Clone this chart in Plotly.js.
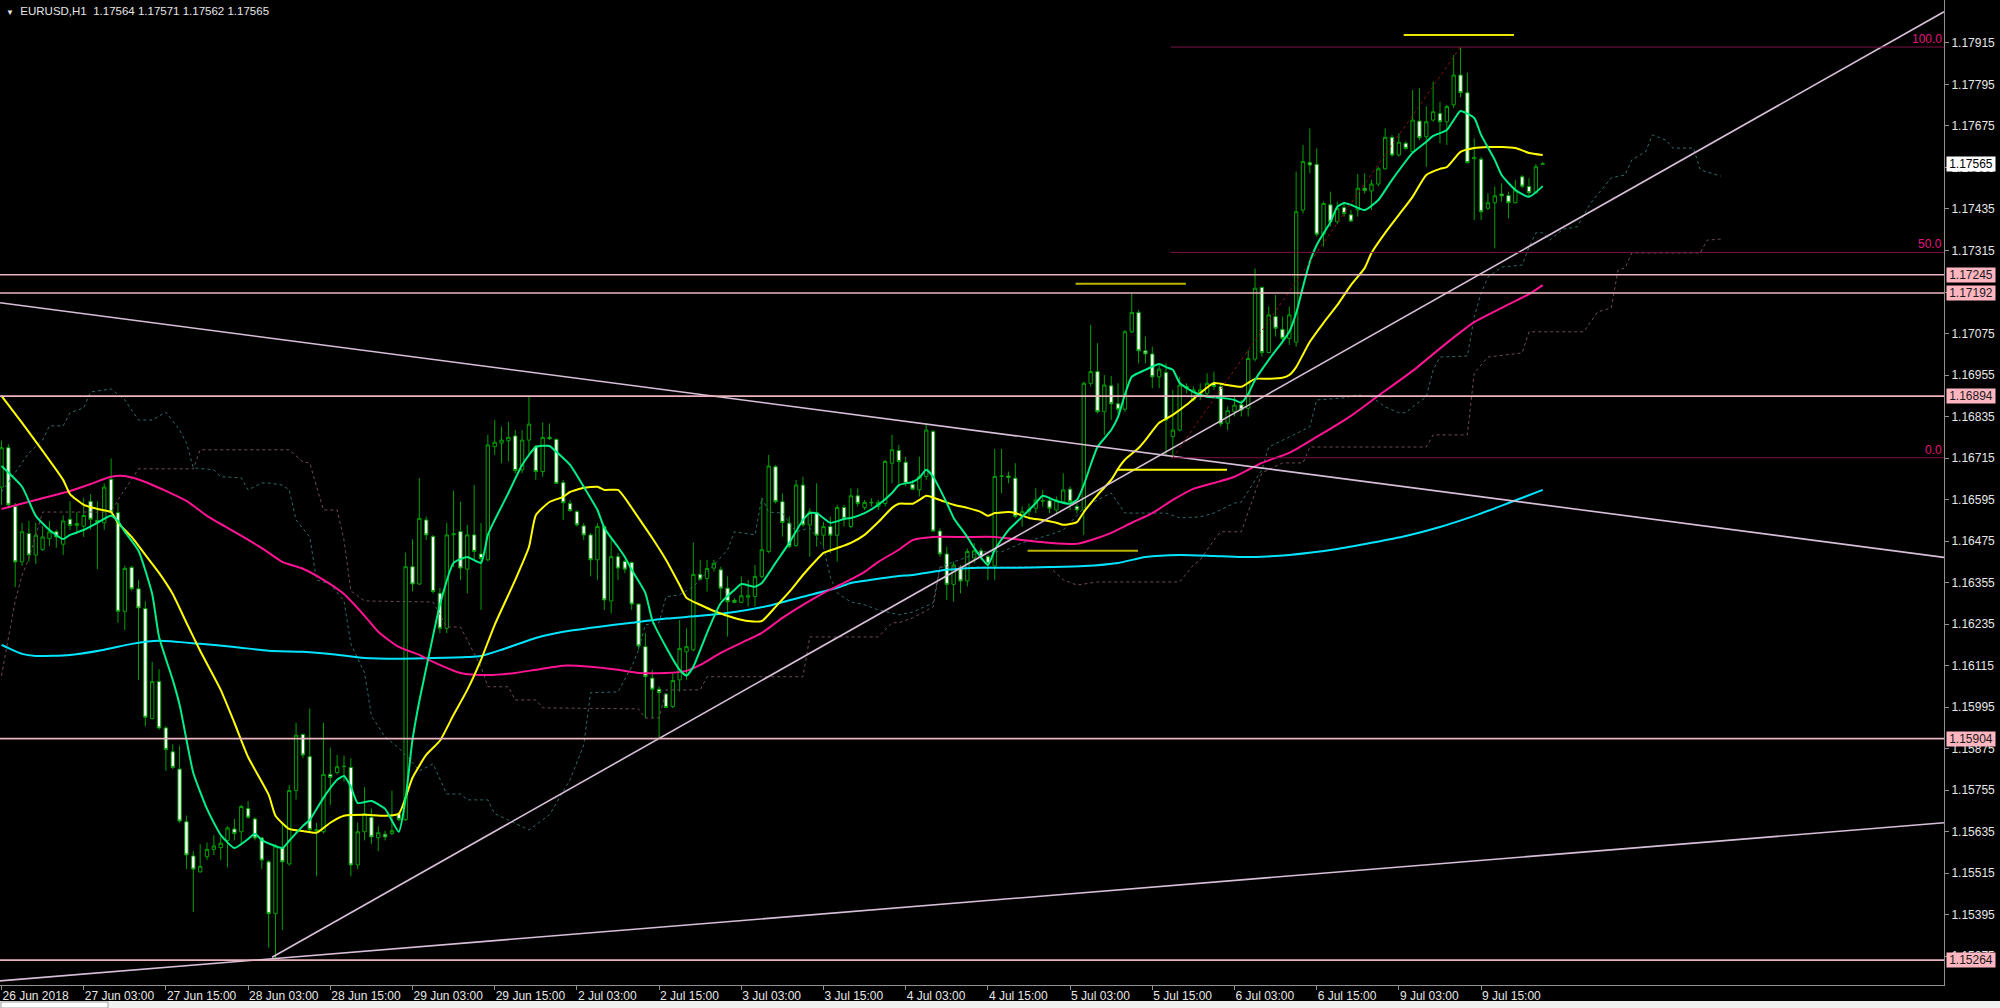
<!DOCTYPE html>
<html><head><meta charset="utf-8">
<script src="https://cdn.plot.ly/plotly-3.0.1.min.js"></script>
<style>html,body{margin:0;padding:0;background:#000;overflow:hidden}#chart{width:2000px;height:1008px}</style>
</head><body><div id="chart"></div>
<script>
// ---------------- DATA ----------------
const symbolName = 'EURUSD,H1';
const lastQuote = ['1.17564', '1.17571', '1.17562', '1.17565'];

const timeTickBars = [0,12,24,36,48,60,72,84,96,108,120,132,144,156,168,180,192,204,216];
const timeTickLabels = ['26 Jun 2018','27 Jun 03:00','27 Jun 15:00','28 Jun 03:00','28 Jun 15:00','29 Jun 03:00','29 Jun 15:00','2 Jul 03:00','2 Jul 15:00','3 Jul 03:00','3 Jul 15:00','4 Jul 03:00','4 Jul 15:00','5 Jul 03:00','5 Jul 15:00','6 Jul 03:00','6 Jul 15:00','9 Jul 03:00','9 Jul 15:00'];

const priceTicks = [1.15275,1.15395,1.15515,1.15635,1.15755,1.15875,1.15995,1.16115,1.16235,1.16355,1.16475,1.16595,1.16715,1.16835,1.16955,1.17075,1.17195,1.17315,1.17435,1.17555,1.17675,1.17795,1.17915];

const open = [1.16631,1.16745,1.16575,1.16415,1.16497,1.16435,1.16451,1.16482,1.16502,1.16466,
1.16538,1.16520,1.16518,1.16590,1.16535,1.16528,1.16654,1.16557,1.16272,1.16399,
1.16337,1.16280,1.15962,1.16069,1.15935,1.15866,1.15816,1.15664,1.15565,1.15519,
1.15563,1.15584,1.15589,1.15610,1.15643,1.15635,1.15702,1.15672,1.15617,1.15548,
1.15398,1.15589,1.15542,1.15754,1.15916,1.15852,1.15641,1.15635,1.15801,1.15806,
1.15823,1.15821,1.15539,1.15635,1.15677,1.15618,1.15628,1.15630,1.15687,1.15670,
1.16401,1.16351,1.16536,1.16488,1.16324,1.16223,1.16493,1.16503,1.16394,1.16493,
1.16438,1.16421,1.16748,1.16758,1.16765,1.16779,1.16681,1.16767,1.16748,1.16676,
1.16775,1.16769,1.16644,1.16584,1.16560,1.16519,1.16493,1.16421,1.16517,1.16302,
1.16430,1.16416,1.16413,1.16293,1.16170,1.16079,1.16047,1.16033,1.15997,1.16074,
1.16155,1.16161,1.16379,1.16367,1.16397,1.16392,1.16339,1.16304,1.16298,1.16313,
1.16315,1.16373,1.16445,1.16690,1.16589,1.16527,1.16462,1.16637,1.16522,1.16557,
1.16492,1.16517,1.16492,1.16572,1.16517,1.16606,1.16572,1.16587,1.16575,1.16584,
1.16700,1.16737,1.16703,1.16639,1.16623,1.16662,1.16792,1.16504,1.16438,1.16350,
1.16397,1.16360,1.16426,1.16447,1.16430,1.16403,1.16662,1.16663,1.16657,1.16546,
1.16560,1.16570,1.16592,1.16592,1.16565,1.16589,1.16625,1.16575,1.16565,1.16931,
1.16965,1.16849,1.16924,1.16872,1.16856,1.17080,1.17136,1.17025,1.17016,1.16950,
1.16962,1.16777,1.16796,1.16922,1.16883,1.16897,1.16902,1.16931,1.16922,1.16816,
1.16849,1.16869,1.16859,1.17001,1.17208,1.17020,1.17124,1.17087,1.17061,1.17050,
1.17432,1.17569,1.17564,1.17362,1.17447,1.17398,1.17439,1.17418,1.17432,1.17495,
1.17487,1.17507,1.17551,1.17642,1.17591,1.17625,1.17601,1.17689,1.17644,1.17692,
1.17711,1.17687,1.17736,1.17822,1.17771,1.17580,1.17579,1.17437,1.17453,1.17478,
1.17474,1.17453,1.17528,1.17500,1.17482,1.17564];

const high = [1.16766,1.16755,1.16585,1.16528,1.16533,1.16528,1.16518,1.16533,1.16508,1.16549,
1.16590,1.16559,1.16600,1.16611,1.16590,1.16642,1.16714,1.16585,1.16404,1.16404,
1.16363,1.16301,1.16126,1.16105,1.15940,1.15888,1.15883,1.15682,1.15579,1.15599,
1.15604,1.15625,1.15620,1.15651,1.15672,1.15713,1.15723,1.15677,1.15620,1.15553,
1.15599,1.15661,1.15770,1.15950,1.15919,1.15991,1.15661,1.15950,1.15878,1.15857,
1.15855,1.15847,1.15661,1.15764,1.15702,1.15651,1.15638,1.15754,1.15692,1.16442,
1.16480,1.16657,1.16546,1.16493,1.16340,1.16528,1.16621,1.16589,1.16522,1.16637,
1.16527,1.16782,1.16825,1.16806,1.16820,1.16796,1.16796,1.16893,1.16753,1.16818,
1.16815,1.16772,1.16652,1.16594,1.16565,1.16527,1.16498,1.16527,1.16522,1.16488,
1.16440,1.16421,1.16416,1.16295,1.16209,1.16103,1.16055,1.16035,1.16093,1.16247,
1.16223,1.16471,1.16421,1.16421,1.16421,1.16401,1.16373,1.16310,1.16373,1.16363,
1.16406,1.16599,1.16724,1.16695,1.16613,1.16546,1.16652,1.16661,1.16570,1.16642,
1.16531,1.16546,1.16580,1.16580,1.16628,1.16628,1.16594,1.16599,1.16594,1.16710,
1.16782,1.16753,1.16719,1.16652,1.16719,1.16816,1.16796,1.16512,1.16459,1.16416,
1.16406,1.16454,1.16469,1.16454,1.16435,1.16741,1.16741,1.16676,1.16700,1.16575,
1.16584,1.16628,1.16623,1.16604,1.16604,1.16671,1.16633,1.16584,1.16936,1.17100,
1.17047,1.16955,1.16952,1.16931,1.17085,1.17191,1.17143,1.17066,1.17037,1.16989,
1.16989,1.16912,1.16950,1.16931,1.16922,1.16931,1.16960,1.16965,1.16931,1.16864,
1.16893,1.16883,1.17027,1.17263,1.17211,1.17153,1.17186,1.17124,1.17153,1.17543,
1.17620,1.17668,1.17610,1.17456,1.17485,1.17456,1.17456,1.17432,1.17536,1.17538,
1.17519,1.17557,1.17668,1.17649,1.17654,1.17630,1.17779,1.17784,1.17731,1.17803,
1.17745,1.17736,1.17880,1.17903,1.17829,1.17639,1.17586,1.17480,1.17500,1.17509,
1.17485,1.17519,1.17533,1.17524,1.17565,1.17571];

const low = [1.16580,1.16569,1.16342,1.16404,1.16415,1.16409,1.16446,1.16461,1.16456,1.16435,
1.16508,1.16497,1.16487,1.16508,1.16394,1.16508,1.16549,1.16239,1.16218,1.16332,
1.16074,1.15940,1.15960,1.15930,1.15811,1.15816,1.15661,1.15527,1.15403,1.15517,
1.15553,1.15568,1.15553,1.15532,1.15610,1.15599,1.15672,1.15610,1.15527,1.15300,
1.15266,1.15351,1.15537,1.15728,1.15847,1.15635,1.15506,1.15630,1.15713,1.15801,
1.15780,1.15506,1.15527,1.15610,1.15599,1.15579,1.15610,1.15625,1.15666,1.15666,
1.16330,1.16348,1.16478,1.16324,1.16209,1.16209,1.16400,1.16363,1.16324,1.16421,
1.16276,1.16416,1.16724,1.16700,1.16705,1.16671,1.16671,1.16719,1.16652,1.16661,
1.16767,1.16640,1.16536,1.16560,1.16517,1.16478,1.16373,1.16363,1.16276,1.16266,
1.16363,1.16382,1.16276,1.16161,1.15963,1.15963,1.15905,1.15992,1.15992,1.16040,
1.16074,1.16156,1.16363,1.16329,1.16387,1.16305,1.16199,1.16295,1.16295,1.16286,
1.16286,1.16368,1.16440,1.16584,1.16488,1.16454,1.16459,1.16517,1.16430,1.16459,
1.16459,1.16440,1.16416,1.16517,1.16512,1.16575,1.16565,1.16575,1.16565,1.16575,
1.16642,1.16633,1.16633,1.16623,1.16604,1.16652,1.16503,1.16430,1.16305,1.16300,
1.16324,1.16344,1.16411,1.16421,1.16363,1.16363,1.16613,1.16642,1.16541,1.16517,
1.16546,1.16555,1.16575,1.16555,1.16555,1.16584,1.16565,1.16555,1.16493,1.16922,
1.16844,1.16782,1.16825,1.16844,1.16849,1.17076,1.16989,1.16989,1.16917,1.16917,
1.16719,1.16716,1.16792,1.16902,1.16878,1.16883,1.16893,1.16912,1.16806,1.16796,
1.16835,1.16835,1.16835,1.16994,1.17008,1.17018,1.17066,1.17052,1.17042,1.17037,
1.17422,1.17538,1.17355,1.17326,1.17384,1.17392,1.17413,1.17398,1.17413,1.17480,
1.17432,1.17500,1.17548,1.17586,1.17586,1.17606,1.17596,1.17634,1.17557,1.17687,
1.17625,1.17620,1.17726,1.17758,1.17567,1.17403,1.17403,1.17432,1.17321,1.17456,
1.17408,1.17451,1.17495,1.17471,1.17478,1.17562];

const close = [1.16745,1.16580,1.16415,1.16502,1.16435,1.16492,1.16487,1.16502,1.16487,1.16533,
1.16520,1.16526,1.16549,1.16538,1.16528,1.16631,1.16559,1.16272,1.16396,1.16337,
1.16282,1.15966,1.16069,1.15935,1.15873,1.15821,1.15666,1.15568,1.15527,1.15535,
1.15584,1.15594,1.15602,1.15646,1.15630,1.15708,1.15677,1.15617,1.15553,1.15398,
1.15594,1.15548,1.15754,1.15914,1.15857,1.15641,1.15638,1.15801,1.15792,1.15823,
1.15824,1.15539,1.15635,1.15687,1.15620,1.15632,1.15620,1.15638,1.15670,1.16401,
1.16351,1.16541,1.16493,1.16329,1.16223,1.16493,1.16496,1.16397,1.16493,1.16445,
1.16425,1.16753,1.16761,1.16767,1.16775,1.16679,1.16767,1.16813,1.16676,1.16775,
1.16771,1.16642,1.16586,1.16563,1.16522,1.16493,1.16421,1.16517,1.16305,1.16430,
1.16397,1.16394,1.16293,1.16172,1.16083,1.16047,1.16037,1.15994,1.16072,1.16165,
1.16170,1.16379,1.16365,1.16396,1.16411,1.16339,1.16300,1.16298,1.16317,1.16317,
1.16373,1.16450,1.16692,1.16589,1.16529,1.16459,1.16637,1.16522,1.16560,1.16492,
1.16517,1.16492,1.16572,1.16541,1.16606,1.16584,1.16587,1.16586,1.16587,1.16705,
1.16739,1.16705,1.16642,1.16625,1.16662,1.16796,1.16504,1.16438,1.16350,1.16406,
1.16360,1.16445,1.16447,1.16430,1.16411,1.16662,1.16663,1.16659,1.16546,1.16560,
1.16567,1.16594,1.16591,1.16570,1.16594,1.16623,1.16589,1.16565,1.16931,1.16965,
1.16849,1.16926,1.16872,1.16856,1.17080,1.17136,1.17025,1.17016,1.16950,1.16972,
1.16825,1.16796,1.16926,1.16917,1.16912,1.16912,1.16931,1.16922,1.16814,1.16852,
1.16868,1.16854,1.17003,1.17206,1.17020,1.17129,1.17090,1.17061,1.17129,1.17427,
1.17572,1.17562,1.17362,1.17451,1.17398,1.17437,1.17422,1.17400,1.17495,1.17488,
1.17507,1.17551,1.17642,1.17591,1.17628,1.17610,1.17692,1.17641,1.17687,1.17716,
1.17687,1.17731,1.17822,1.17771,1.17569,1.17584,1.17427,1.17453,1.17473,1.17473,
1.17453,1.17490,1.17501,1.17482,1.17557,1.17565];

// Moving averages (bar index, price)
const maGreenBars = [0,3,5,7,9,10,12,14,16,17,18,20,22,23,25,26,27,28,30,32,34,36,37,38,41,42,44,45,47,49,50,51,52,54,56,58,59,60,61,63,64,66,68,70,71,72,74,76,78,80,81,83,85,87,88,90,91,92,94,95,97,99,100,101,103,105,107,108,110,111,113,115,117,118,119,121,123,124,126,128,130,131,133,134,135,136,138,139,141,142,144,145,147,149,151,152,154,156,157,158,159,160,162,163,164,165,167,169,170,171,172,174,176,178,180,181,182,183,185,187,188,189,190,191,192,194,195,196,197,199,201,203,206,208,209,211,212,213,215,216,218,219,221,223,225];
const maGreenVals = [1.16692,1.16632,1.16548,1.16507,1.16481,1.16493,1.16507,1.16528,1.16548,1.16533,1.16502,1.16447,1.16322,1.16198,1.16074,1.16002,1.15901,1.15805,1.15701,1.15626,1.15588,1.15614,1.15629,1.15611,1.15588,1.15609,1.15652,1.15669,1.15733,1.15785,1.15796,1.15765,1.15718,1.15724,1.15701,1.15635,1.15733,1.15901,1.16013,1.16201,1.16291,1.16412,1.16429,1.16412,1.16493,1.16536,1.16614,1.16695,1.16747,1.16750,1.16733,1.16695,1.16632,1.16565,1.16513,1.16458,1.16429,1.16392,1.16325,1.16247,1.16169,1.16103,1.16086,1.16112,1.16210,1.16296,1.16334,1.16351,1.16343,1.16354,1.16412,1.16470,1.16536,1.16556,1.16556,1.16528,1.16539,1.16542,1.16556,1.16580,1.16614,1.16637,1.16646,1.16658,1.16681,1.16661,1.16585,1.16542,1.16487,1.16455,1.16406,1.16450,1.16507,1.16545,1.16585,1.16606,1.16591,1.16583,1.16594,1.16637,1.16695,1.16747,1.16796,1.16834,1.16898,1.16950,1.16970,1.16987,1.16978,1.16970,1.16932,1.16906,1.16892,1.16889,1.16883,1.16875,1.16900,1.16941,1.16999,1.17051,1.17080,1.17134,1.17210,1.17282,1.17331,1.17397,1.17441,1.17452,1.17447,1.17432,1.17461,1.17519,1.17597,1.17629,1.17646,1.17663,1.17692,1.17718,1.17698,1.17649,1.17577,1.17533,1.17490,1.17470,1.17501];

const maYellowBars = [0,3,6,9,10,12,14,16,17,19,21,23,25,27,29,32,34,36,39,40,42,44,46,48,50,53,56,58,60,62,64,66,68,70,72,75,77,78,80,82,83,85,87,88,90,91,93,95,97,99,100,102,104,107,109,111,113,115,117,119,120,122,124,126,128,130,131,133,134,135,137,139,141,143,144,145,147,148,150,152,154,155,157,158,160,162,163,164,166,167,169,171,173,175,177,179,181,183,185,187,188,189,191,193,195,197,199,200,202,204,206,208,210,211,213,215,217,219,221,223,225];
const maYellowVals = [1.16895,1.16817,1.16736,1.16652,1.16611,1.16580,1.16568,1.16559,1.16528,1.16487,1.16435,1.16383,1.16322,1.16239,1.16158,1.16045,1.15950,1.15851,1.15742,1.15681,1.15643,1.15637,1.15632,1.15661,1.15681,1.15684,1.15681,1.15687,1.15791,1.15857,1.15898,1.15973,1.16045,1.16132,1.16233,1.16363,1.16458,1.16550,1.16588,1.16603,1.16617,1.16629,1.16632,1.16623,1.16623,1.16600,1.16542,1.16484,1.16421,1.16348,1.16311,1.16291,1.16273,1.16253,1.16244,1.16244,1.16285,1.16328,1.16377,1.16421,1.16441,1.16455,1.16470,1.16493,1.16530,1.16571,1.16583,1.16583,1.16594,1.16606,1.16594,1.16580,1.16571,1.16559,1.16548,1.16556,1.16559,1.16556,1.16542,1.16536,1.16528,1.16522,1.16530,1.16559,1.16608,1.16652,1.16684,1.16710,1.16744,1.16767,1.16817,1.16840,1.16869,1.16903,1.16932,1.16926,1.16921,1.16944,1.16944,1.16947,1.16955,1.16978,1.17051,1.17106,1.17157,1.17215,1.17264,1.17308,1.17366,1.17418,1.17470,1.17533,1.17551,1.17556,1.17600,1.17611,1.17614,1.17614,1.17611,1.17597,1.17591];

const maPinkBars = [0,5,10,13,16,18,21,24,27,30,34,38,41,44,47,50,53,55,58,61,63,67,71,75,78,82,86,90,93,97,100,102,105,108,111,114,117,120,123,126,128,131,133,136,141,145,149,153,157,160,162,165,168,171,174,177,180,184,188,192,197,201,206,211,215,219,223,225];
const maPinkVals = [1.16568,1.16594,1.16620,1.16640,1.16661,1.16663,1.16646,1.16620,1.16591,1.16548,1.16502,1.16455,1.16415,1.16395,1.16363,1.16322,1.16259,1.16213,1.16169,1.16146,1.16126,1.16094,1.16088,1.16094,1.16103,1.16115,1.16112,1.16103,1.16094,1.16094,1.16100,1.16117,1.16152,1.16181,1.16210,1.16253,1.16291,1.16325,1.16354,1.16386,1.16415,1.16450,1.16478,1.16487,1.16487,1.16487,1.16478,1.16470,1.16467,1.16484,1.16499,1.16528,1.16556,1.16594,1.16626,1.16643,1.16661,1.16701,1.16730,1.16776,1.16837,1.16895,1.16967,1.17048,1.17108,1.17149,1.17189,1.17215];

const maCyanBars = [0,3,5,10,15,19,23,29,34,39,44,48,53,58,63,68,70,73,78,82,87,92,97,102,107,112,117,122,124,127,131,133,138,143,148,153,158,163,167,172,177,181,188,195,200,205,210,215,220,225];
const maCyanVals = [1.16175,1.16149,1.16143,1.16146,1.16161,1.16178,1.16187,1.16178,1.16169,1.16158,1.16155,1.16149,1.16137,1.16135,1.16137,1.16140,1.16143,1.16161,1.16195,1.16213,1.16227,1.16239,1.16251,1.16259,1.16270,1.16288,1.16314,1.16340,1.16354,1.16363,1.16374,1.16377,1.16392,1.16398,1.16398,1.16400,1.16403,1.16412,1.16429,1.16435,1.16432,1.16429,1.16435,1.16452,1.16470,1.16490,1.16516,1.16548,1.16585,1.16623];

// Ichimoku spans (dotted)
const spanABars = [0,2,4,6,7,9,10,12,13,16,18,20,22,24,26,27,28,31,32,35,36,38,39,41,42,43,45,46,48,50,51,53,54,56,58,59,61,63,65,67,68,71,72,74,77,80,83,85,86,90,92,93,94,96,97,99,101,104,106,107,110,111,112,114,116,118,120,121,122,124,126,128,131,133,136,137,143,146,149,153,155,158,160,162,163,164,170,172,175,177,180,181,184,185,191,192,196,198,200,202,204,205,206,208,209,210,214,215,216,217,219,222,223,224,225,226,228,230,232,235,237,238,240,241,243,244,247,248,251];
const spanAVals = [1.16617,1.16672,1.16730,1.16767,1.16808,1.16808,1.16846,1.16860,1.16906,1.16915,1.16883,1.16825,1.16825,1.16848,1.16796,1.16759,1.16687,1.16681,1.16661,1.16658,1.16623,1.16643,1.16643,1.16637,1.16623,1.16536,1.16487,1.16363,1.16351,1.16302,1.16178,1.16094,1.15970,1.15909,1.15877,1.15857,1.15811,1.15831,1.15744,1.15744,1.15727,1.15727,1.15687,1.15669,1.15640,1.15684,1.15785,1.15886,1.16037,1.16039,1.16112,1.16161,1.16233,1.16239,1.16314,1.16320,1.16343,1.16406,1.16450,1.16502,1.16493,1.16600,1.16559,1.16556,1.16502,1.16513,1.16458,1.16371,1.16325,1.16299,1.16291,1.16276,1.16262,1.16270,1.16296,1.16400,1.16444,1.16444,1.16470,1.16493,1.16507,1.16571,1.16594,1.16614,1.16585,1.16556,1.16556,1.16542,1.16545,1.16556,1.16585,1.16588,1.16681,1.16747,1.16805,1.16883,1.16889,1.16898,1.16892,1.16863,1.16846,1.16846,1.16863,1.16892,1.16970,1.17007,1.17010,1.17123,1.17192,1.17238,1.17267,1.17273,1.17325,1.17366,1.17366,1.17345,1.17377,1.17383,1.17452,1.17525,1.17533,1.17577,1.17600,1.17649,1.17634,1.17611,1.17611,1.17548,1.17530];

const spanBBars = [0,2,3,4,6,16,17,20,28,29,42,44,45,47,49,50,51,53,63,65,67,70,71,74,75,78,79,93,94,96,97,102,103,117,118,128,130,131,133,136,137,153,155,157,160,172,174,175,177,178,181,184,187,190,191,208,209,214,215,217,222,223,231,233,235,236,237,238,248,249,251];
const spanBVals = [1.16086,1.16302,1.16377,1.16424,1.16559,1.16559,1.16594,1.16684,1.16684,1.16739,1.16739,1.16704,1.16701,1.16565,1.16565,1.16478,1.16331,1.16302,1.16299,1.16227,1.16227,1.16112,1.16054,1.16054,1.16016,1.16016,1.15993,1.15990,1.15964,1.15964,1.16045,1.16045,1.16083,1.16083,1.16198,1.16198,1.16239,1.16239,1.16253,1.16285,1.16400,1.16400,1.16363,1.16348,1.16357,1.16357,1.16406,1.16421,1.16478,1.16502,1.16502,1.16672,1.16701,1.16701,1.16747,1.16747,1.16782,1.16782,1.16961,1.17007,1.17019,1.17080,1.17080,1.17137,1.17149,1.17259,1.17264,1.17308,1.17308,1.17345,1.17348];

// Horizontal price levels (pink) and their labels
const levelPrices = [1.17245, 1.17192, 1.16894, 1.15904, 1.15264];
const levelLabels = ['1.17245', '1.17192', '1.16894', '1.15904', '1.15264'];
const bidPrice = 1.17565;
const bidLabel = '1.17565';

// Trend lines: [bar, price] anchors
const trendDownBars = [-0.22, 283.58];
const trendDownPrices = [1.17164, 1.16428];
const trendUpBars = [39.5, 283.58];
const trendUpPrices = [1.15272, 1.18005];
const trendLowBars = [-0.22, 283.58];
const trendLowPrices = [1.15204, 1.15661];

// Fibonacci retracement
const fibStartBar = 171, fibEndBar = 213;
const fibLowPrice = 1.16716, fibHighPrice = 1.17903;
const fibLevels = [0, 50, 100];
const fibLabels = ['0.0', '50.0', '100.0'];

// Short yellow level segments: [startBar, endBar], price
const segStartBars = [204.7, 156.8, 162.8, 149.8];
const segEndBars = [220.8, 172.9, 178.9, 165.9];
const segPrices = [1.17938, 1.17219, 1.16681, 1.16447];
const segColors = ['#E6E600', '#BDB500', '#FFFF00', '#BDB500'];

// ---------------- CHART ----------------
const X_MIN = -0.22, X_MAX = 283.58;
const Y_MIN = 1.15192, Y_MAX = 1.18039;
const FONT = 'Liberation Sans, Arial, sans-serif';
const barIndex = open.map((_, i) => i);

const traces = [];
traces.push({
  type: 'candlestick', x: barIndex, open: open, high: high, low: low, close: close,
  increasing: {line: {color: '#00A000', width: 1}, fillcolor: '#000000'},
  decreasing: {line: {color: '#00A000', width: 1}, fillcolor: '#FFFFFF'},
  whiskerwidth: 0, hoverinfo: 'skip', showlegend: false
});
traces.push({type: 'scatter', mode: 'lines', x: spanABars, y: spanAVals, line: {color: '#2E6A6A', width: 1, dash: 'dot'}, hoverinfo: 'skip'});
traces.push({type: 'scatter', mode: 'lines', x: spanBBars, y: spanBVals, line: {color: '#6E4C55', width: 1, dash: 'dot'}, hoverinfo: 'skip'});
traces.push({type: 'scatter', mode: 'lines', x: maCyanBars, y: maCyanVals, line: {color: '#00E5FF', width: 2, shape: 'spline', smoothing: 0.6}, hoverinfo: 'skip'});
traces.push({type: 'scatter', mode: 'lines', x: maPinkBars, y: maPinkVals, line: {color: '#FF1493', width: 2, shape: 'spline', smoothing: 0.6}, hoverinfo: 'skip'});
traces.push({type: 'scatter', mode: 'lines', x: maYellowBars, y: maYellowVals, line: {color: '#FFFF00', width: 2, shape: 'spline', smoothing: 0.5}, hoverinfo: 'skip'});
traces.push({type: 'scatter', mode: 'lines', x: maGreenBars, y: maGreenVals, line: {color: '#00EE88', width: 2, shape: 'spline', smoothing: 0.5}, hoverinfo: 'skip'});

// trend lines
[[trendDownBars, trendDownPrices], [trendUpBars, trendUpPrices], [trendLowBars, trendLowPrices]].forEach(([xs, ys]) => {
  traces.push({type: 'scatter', mode: 'lines', x: xs, y: ys, line: {color: '#D8BFD8', width: 1.6}, hoverinfo: 'skip'});
});
// fib lines
fibLevels.forEach(lv => {
  const p = fibLowPrice + (fibHighPrice - fibLowPrice) * lv / 100;
  traces.push({type: 'scatter', mode: 'lines', x: [fibStartBar - 0.3, X_MAX], y: [p, p], line: {color: '#7A1446', width: 1}, hoverinfo: 'skip'});
});
traces.push({type: 'scatter', mode: 'lines', x: [fibStartBar, fibEndBar], y: [fibLowPrice, fibHighPrice], line: {color: '#8B1010', width: 1, dash: 'dot'}, hoverinfo: 'skip'});
// yellow segments
segPrices.forEach((p, i) => {
  traces.push({type: 'scatter', mode: 'lines', x: [segStartBars[i], segEndBars[i]], y: [p, p], line: {color: segColors[i], width: 2}, hoverinfo: 'skip'});
});

const shapes = levelPrices.map(p => ({
  type: 'line', xref: 'paper', yref: 'y', x0: 0, x1: 1, y0: p, y1: p,
  line: {color: '#EBB4BE', width: 1.6}, layer: 'above'
}));
// bottom tab strip (outside plot)
const plotH = 985;
shapes.push({type: 'rect', xref: 'paper', yref: 'paper', x0: 0, x1: 2000 / 1944, y0: -(1001 - plotH) / plotH, y1: -(1008 - plotH) / plotH, fillcolor: '#F0F0F0', line: {width: 0}, layer: 'above'});
shapes.push({type: 'rect', xref: 'paper', yref: 'paper', x0: 0.0005, x1: 108 / 1944, y0: -(1002 - plotH) / plotH, y1: -(1008 - plotH) / plotH, fillcolor: '#FFFFFF', line: {color: '#A0A0A0', width: 1}, layer: 'above'});

const annotations = [];
levelPrices.forEach((p, i) => {
  annotations.push({xref: 'paper', yref: 'y', x: 1, y: p, xanchor: 'left', yanchor: 'middle', xshift: 2,
    text: levelLabels[i], showarrow: false, bgcolor: '#FFB6C1', font: {family: FONT, size: 12, color: '#1A1A1A'},
    width: 48, height: 14, borderpad: 0, align: 'center'});
});
annotations.push({xref: 'paper', yref: 'y', x: 1, y: bidPrice, xanchor: 'left', yanchor: 'middle', xshift: 2,
  text: bidLabel, showarrow: false, bgcolor: '#FFFFFF', font: {family: FONT, size: 12, color: '#000000'},
  width: 48, height: 14, borderpad: 0, align: 'center'});
fibLevels.forEach((lv, i) => {
  const p = fibLowPrice + (fibHighPrice - fibLowPrice) * lv / 100;
  annotations.push({xref: 'paper', yref: 'y', x: 1, y: p, xanchor: 'right', yanchor: 'bottom', xshift: -1,
    text: fibLabels[i], showarrow: false, font: {family: FONT, size: 12, color: '#E0187C'}, borderpad: 0});
});

const layout = {
  width: 2000, height: 1008,
  paper_bgcolor: '#000000', plot_bgcolor: '#000000',
  margin: {l: 0, r: 56, t: 0, b: 23, pad: 0},
  showlegend: false, hovermode: false, dragmode: false,
  title: {
    text: '<span style="font-size:8px">▼</span>  ' + symbolName + '\u00a0\u00a0' + lastQuote.join(' '),
    x: 0.003, xanchor: 'left', xref: 'container', y: 1 - 11 / 1008, yanchor: 'middle', yref: 'container',
    font: {family: FONT, size: 11.5, color: '#E6E6E6'}
  },
  xaxis: {
    range: [X_MIN, X_MAX], tickmode: 'array', tickvals: timeTickBars, ticktext: timeTickLabels,
    ticks: 'outside', ticklen: 4, tickcolor: '#909090', ticklabelposition: 'outside right',
    showgrid: false, zeroline: false, showline: true, linecolor: '#909090', linewidth: 1,
    tickfont: {family: FONT, size: 12, color: '#E6E6E6'},
    rangeslider: {visible: false}, fixedrange: true
  },
  yaxis: {
    side: 'right', range: [Y_MIN, Y_MAX], tickmode: 'array', tickvals: priceTicks, tickformat: '.5f',
    ticks: 'outside', ticklen: 4, tickcolor: '#909090',
    showgrid: false, zeroline: false, showline: true, mirror: true, linecolor: '#909090', linewidth: 1,
    tickfont: {family: FONT, size: 12, color: '#E6E6E6'}, fixedrange: true
  },
  shapes: shapes, annotations: annotations
};

Plotly.newPlot('chart', traces, layout, {staticPlot: true, displayModeBar: false});
</script>
</body></html>
